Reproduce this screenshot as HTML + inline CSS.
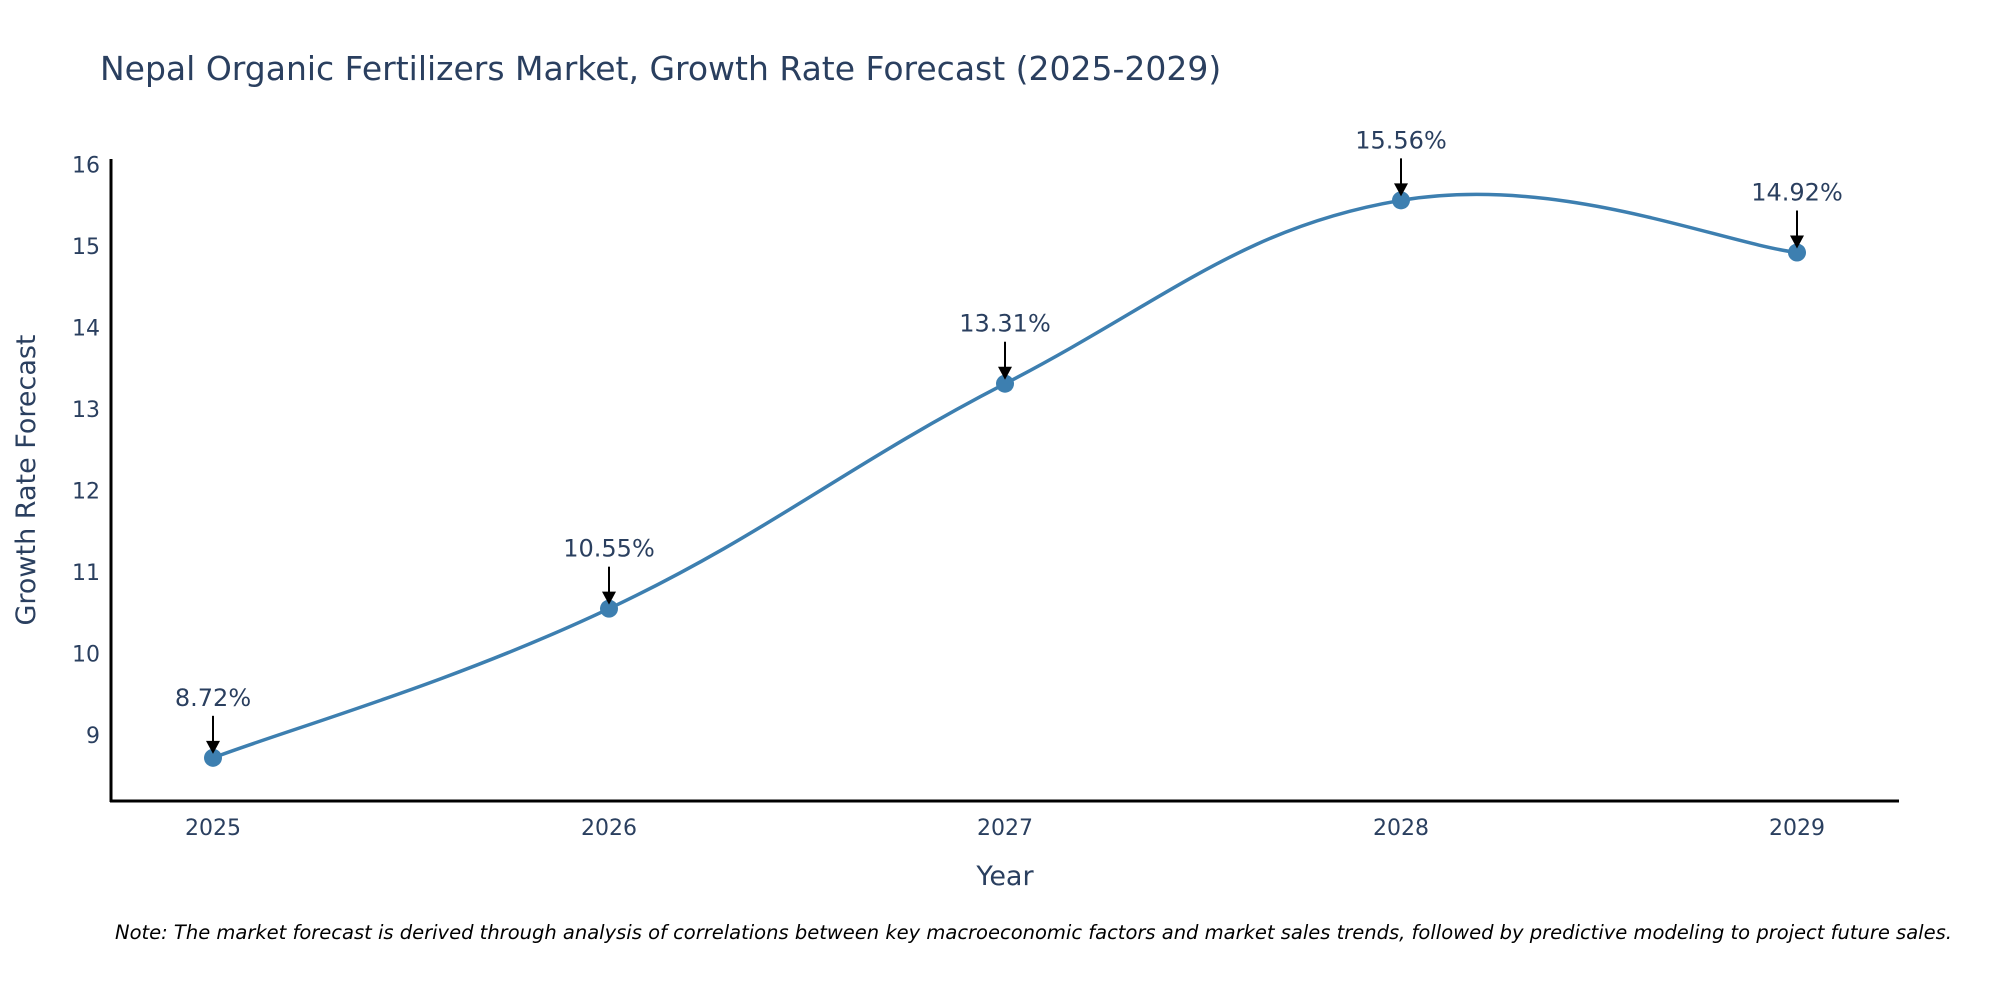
<!DOCTYPE html>
<html><head><meta charset="utf-8"><style>
body{margin:0;background:#fff;font-family:"DejaVu Sans","Liberation Sans",sans-serif}
svg text{font-family:"DejaVu Sans","Liberation Sans",sans-serif}
</style></head><body>
<svg id="chart" width="2000" height="1000" xmlns="http://www.w3.org/2000/svg">
<text x="100" y="80" font-size="33" fill="#2a3f5f">Nepal Organic Fertilizers Market, Growth Rate Forecast (2025-2029)</text>
<g id="yticks"></g>
<g id="xticks"></g>
<line x1="111" y1="159" x2="111" y2="802" stroke="#000" stroke-width="3"/>
<line x1="110" y1="801" x2="1899" y2="801" stroke="#000" stroke-width="3"/>
<text transform="translate(35,480) rotate(-90)" text-anchor="middle" font-size="27" fill="#2a3f5f">Growth Rate Forecast</text>
<text x="1005" y="885" text-anchor="middle" font-size="27" fill="#2a3f5f">Year</text>
<g id="series"></g>
<text x="115" y="939" font-size="19.5" font-style="italic" fill="#000">Note: The market forecast is derived through analysis of correlations between key macroeconomic factors and market sales trends, followed by predictive modeling to project future sales.</text>
</svg>
<script>
const years = ["2025","2026","2027","2028","2029"];
const values = [8.72,10.55,13.31,15.56,14.92];
const yTicks = [9,10,11,12,13,14,15,16];
const NS="http://www.w3.org/2000/svg";
const xs=i=>213+i*396;
const ys=v=>164.5+(16-v)*81.5;
function mk(t,a,p){const e=document.createElementNS(NS,t);for(const k in a)e.setAttribute(k,a[k]);p.appendChild(e);return e;}
const yt=document.getElementById('yticks');
yTicks.forEach(v=>{const t=mk('text',{x:100,y:ys(v)+8,'text-anchor':'end','font-size':22,fill:'#2a3f5f'},yt);


t.textContent=v;});
const xt=document.getElementById('xticks');
years.forEach((y,i)=>{const t=mk('text',{x:xs(i),y:835,'text-anchor':'middle','font-size':22,fill:'#2a3f5f'},xt);


t.textContent=y;});
const s=document.getElementById('series');
const P=values.map((v,i)=>[xs(i),ys(v)]);
let d='M'+P[0][0]+','+P[0][1];
const k=0.2;
for(let i=0;i<P.length-1;i++){const p0=P[Math.max(0,i-1)],p1=P[i],p2=P[i+1],p3=P[Math.min(P.length-1,i+2)];
const c1=[p1[0]+(p2[0]-p0[0])*k,p1[1]+(p2[1]-p0[1])*k],c2=[p2[0]-(p3[0]-p1[0])*k,p2[1]-(p3[1]-p1[1])*k];
d+=` C${c1[0]},${c1[1]} ${c2[0]},${c2[1]} ${p2[0]},${p2[1]}`;}
const line=mk('path',{d:d,fill:'none',stroke:'#3d7fb0','stroke-width':3.5},s);


values.forEach((v,i)=>{const cx=xs(i),cy=ys(v);
const c=mk('circle',{cx:cx,cy:cy,r:9,fill:'#3d7fb0'},s);


const l=mk('line',{x1:cx,y1:cy-42,x2:cx,y2:cy-14,stroke:'#000','stroke-width':2},s);


const a=mk('polygon',{points:`${cx-7},${cy-17} ${cx+7},${cy-17} ${cx},${cy-4}`,fill:'#000'},s);


const t=mk('text',{x:cx,y:cy-52,'text-anchor':'middle','font-size':24,fill:'#2a3f5f'},s);


t.textContent=v.toFixed(2)+'%';});
</script>
</body></html>
